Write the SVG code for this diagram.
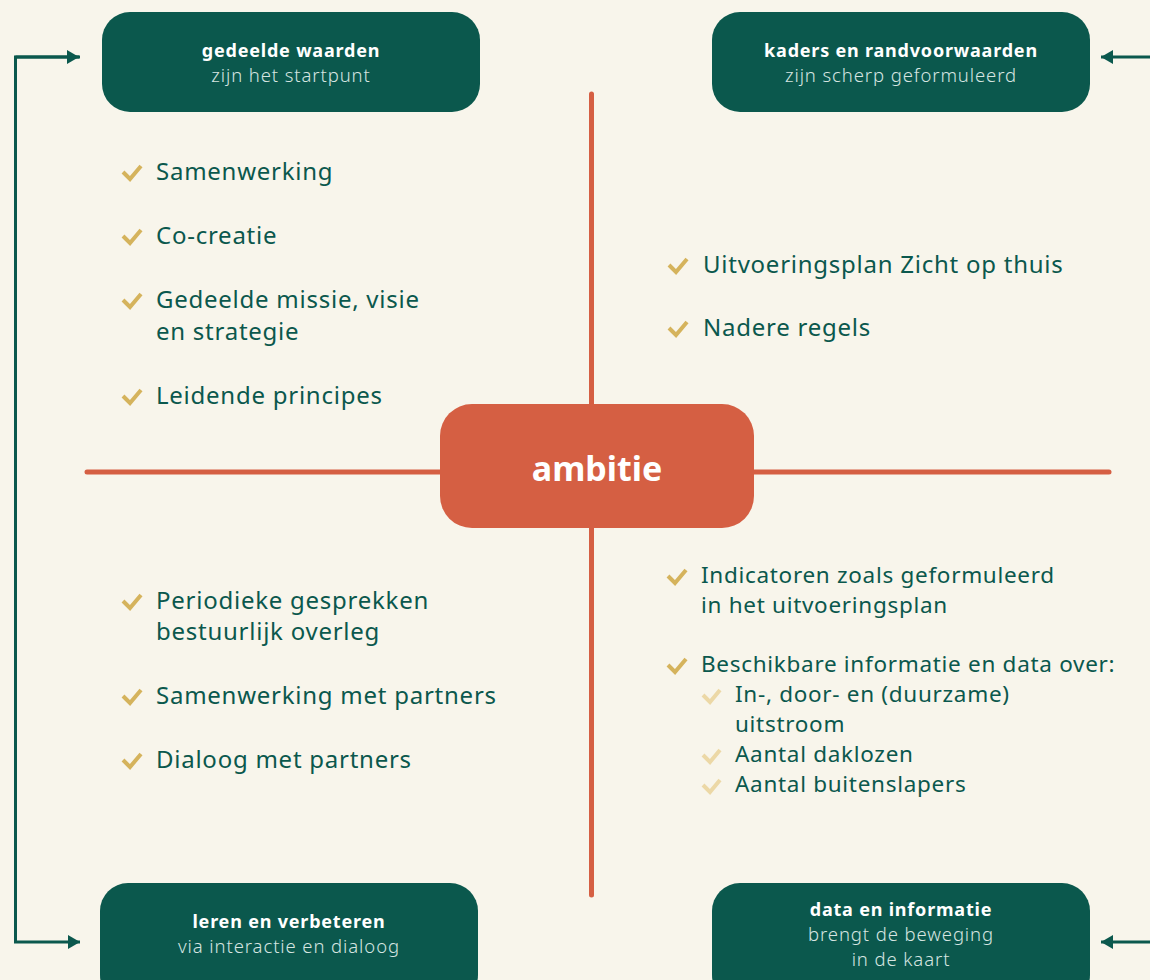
<svg xmlns="http://www.w3.org/2000/svg" width="1150" height="980" viewBox="0 0 1150 980">
<defs>
<style>
.box{fill:#0b584d}
.ttl{font-family:"Noto Sans","Open Sans",sans-serif;font-weight:700;font-size:18px;letter-spacing:0.8px;fill:#ffffff;text-anchor:middle}
.sub{font-family:"Noto Sans","Open Sans",sans-serif;font-weight:300;font-size:18.5px;letter-spacing:0.9px;fill:#d6e5e1;text-anchor:middle}
.item{font-family:"Noto Sans","Open Sans",sans-serif;font-size:24px;letter-spacing:0.75px;fill:#0b584d}
.item2{font-family:"Noto Sans","Open Sans",sans-serif;font-size:22.5px;letter-spacing:0.7px;fill:#0b584d}
.chk{fill:none;stroke:#d5b35c;stroke-width:4;stroke-linecap:butt;stroke-linejoin:miter}
.chk2{fill:none;stroke:#ecd8a6;stroke-width:4}
.axis{stroke:#d55f43;stroke-width:5;stroke-linecap:round}
.conn{fill:none;stroke:#0b584d;stroke-width:3}
</style>
<marker id="ah" markerWidth="12" markerHeight="14" refX="12" refY="7" orient="auto" markerUnits="userSpaceOnUse">
<path d="M0,0 L12,7 L0,14 Z" fill="#0b584d"/>
</marker>
</defs>
<rect width="1150" height="980" fill="#f8f5eb"/>
<g id="axes">
<line class="axis" x1="591.5" y1="94" x2="591.5" y2="895"/>
<line class="axis" x1="87" y1="472" x2="1109" y2="472"/>
</g>
<g id="connectors">
<path class="conn" d="M80,57 H15.5 V942 H80" marker-end="url(#ah)"/>
<path class="conn" d="M15.5,57 H79" marker-end="url(#ah)"/>
<path class="conn" d="M1150,57 H1101" marker-end="url(#ah)"/>
<path class="conn" d="M1150,942 H1101" marker-end="url(#ah)"/>
</g>
<g id="ambitie">
<rect x="440" y="404" width="314" height="124" rx="32" fill="#d55f43"/>
<text x="597" y="481" font-family="Noto Sans,Open Sans,sans-serif" font-weight="700" font-size="34" fill="#ffffff" text-anchor="middle">ambitie</text>
</g>
<g id="gedeelde-waarden">
<rect class="box" x="102" y="12" width="378" height="100" rx="28"/>
<text class="ttl" x="291" y="57">gedeelde waarden</text>
<text class="sub" x="291" y="82">zijn het startpunt</text>
</g>
<g id="kaders">
<rect class="box" x="712" y="12" width="378" height="100" rx="28"/>
<text class="ttl" x="901" y="57">kaders en randvoorwaarden</text>
<text class="sub" x="901" y="82">zijn scherp geformuleerd</text>
</g>
<g id="leren">
<rect class="box" x="100" y="883" width="378" height="120" rx="28"/>
<text class="ttl" x="289" y="928">leren en verbeteren</text>
<text class="sub" x="289" y="953">via interactie en dialoog</text>
</g>
<g id="data">
<rect class="box" x="712" y="883" width="378" height="120" rx="28"/>
<text class="ttl" x="901" y="916">data en informatie</text>
<text class="sub" x="901" y="941">brengt de beweging</text>
<text class="sub" x="901" y="966">in de kaart</text>
</g>
<g id="list-top-left">
<path class="chk" d="M123,172 L130,179 L141,166"/>
<text class="item" x="156" y="180">Samenwerking</text>
<path class="chk" d="M123,236 L130,243 L141,230"/>
<text class="item" x="156" y="244">Co-creatie</text>
<path class="chk" d="M123,300 L130,307 L141,294"/>
<text class="item" x="156" y="308">Gedeelde missie, visie</text>
<text class="item" x="156" y="340">en strategie</text>
<path class="chk" d="M123,396 L130,403 L141,390"/>
<text class="item" x="156" y="404">Leidende principes</text>
</g>
<g id="list-top-right">
<path class="chk" d="M669,265 L676,272 L687,259"/>
<text class="item" x="703" y="273">Uitvoeringsplan Zicht op thuis</text>
<path class="chk" d="M669,328 L676,335 L687,322"/>
<text class="item" x="703" y="336">Nadere regels</text>
</g>
<g id="list-bottom-left">
<path class="chk" d="M123,601 L130,608 L141,595"/>
<text class="item" x="156" y="609">Periodieke gesprekken</text>
<text class="item" x="156" y="640">bestuurlijk overleg</text>
<path class="chk" d="M123,696 L130,703 L141,690"/>
<text class="item" x="156" y="704">Samenwerking met partners</text>
<path class="chk" d="M123,760 L130,767 L141,754"/>
<text class="item" x="156" y="768">Dialoog met partners</text>
</g>
<g id="list-bottom-right">
<path class="chk" d="M668,576 L675,583 L686,570"/>
<text class="item2" x="701" y="583">Indicatoren zoals geformuleerd</text>
<text class="item2" x="701" y="613">in het uitvoeringsplan</text>
<path class="chk" d="M668,665 L675,672 L686,659"/>
<text class="item2" x="701" y="672">Beschikbare informatie en data over:</text>
<path class="chk2" d="M703,695 L710,702 L720,690"/>
<text class="item2" x="735" y="702">In-, door- en (duurzame)</text>
<text class="item2" x="735" y="732">uitstroom</text>
<path class="chk2" d="M703,755 L710,762 L720,750"/>
<text class="item2" x="735" y="762">Aantal daklozen</text>
<path class="chk2" d="M703,785 L710,792 L720,780"/>
<text class="item2" x="735" y="792">Aantal buitenslapers</text>
</g>
</svg>
